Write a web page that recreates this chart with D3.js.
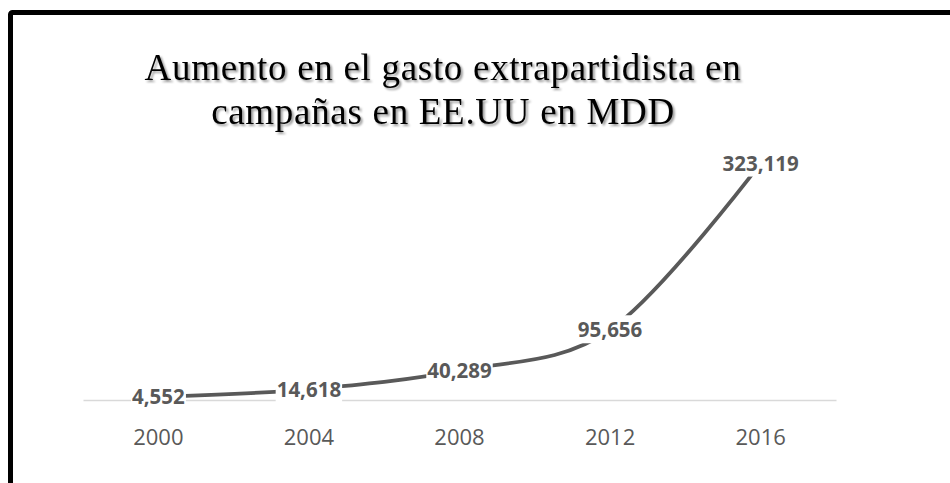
<!DOCTYPE html>
<html><head><meta charset="utf-8">
<script src="https://cdn.jsdelivr.net/npm/d3@7"></script>
<style>body{margin:0;background:#fff;} svg{display:block;}</style>
</head><body>
<script>
const years = ["2000","2004","2008","2012","2016"];
const values = [4552, 14618, 40289, 95656, 323119];
const titleLines = ["Aumento en el gasto extrapartidista en", "campañas en EE.UU en MDD"];

const W = 950, H = 483;
const svg = d3.select("body").append("svg").attr("width", W).attr("height", H);
const defs = svg.append("defs");
const f = defs.append("filter").attr("id","sh").attr("x","-10%").attr("y","-20%").attr("width","120%").attr("height","150%");
f.append("feDropShadow").attr("dx",2).attr("dy",2).attr("stdDeviation",1.3).attr("flood-color","#000").attr("flood-opacity",0.4);

// outer frame
svg.append("rect").attr("x",10.5).attr("y",12.5).attr("width",W+20).attr("height",H+20)
  .attr("fill","none").attr("stroke","#000").attr("stroke-width",5).attr("rx",2);

// title
const t = svg.append("text").attr("text-anchor","middle").attr("font-family","'Liberation Serif','Times New Roman',serif")
  .attr("font-size",37).attr("letter-spacing",0.7).attr("fill","#000").attr("filter","url(#sh)");
titleLines.forEach((l,i)=>t.append("tspan").attr("x",443).attr("y",80+44*i).text(l));

const x = d3.scaleBand().domain(years).range([83, 836]);
const y = d3.scaleLinear().domain([0, 350000]).range([400, 143.5]);

// axis
const ax = svg.append("g").attr("transform","translate(0,400)")
  .call(d3.axisBottom(x).tickSize(0).tickPadding(0));
ax.select(".domain").attr("stroke","#d9d9d9").attr("stroke-width",1.3);
ax.selectAll("text").attr("font-family","'Open Sans',sans-serif").attr("font-size",22)
  .attr("fill","#595959").attr("dy",0).attr("y",45);

// line
const line = d3.line().x((d,i)=>x(years[i])+x.bandwidth()/2).y(d=>y(d)).curve(d3.curveCardinal.tension(0));
svg.append("path").datum(values).attr("d",line).attr("fill","none").attr("stroke","#595959").attr("stroke-width",3.8);

// labels
const fmt = d3.format(",");
const lg = svg.append("g");
values.forEach((v,i)=>{
  const cx = x(years[i])+x.bandwidth()/2, cy = y(v);
  const g = lg.append("g");
  const tx = g.append("text").attr("x",cx).attr("y",cy).attr("dy","0.36em").attr("text-anchor","middle")
    .attr("font-family","'Open Sans',sans-serif").attr("font-weight","bold").attr("font-size",20.5)
    .attr("fill","#595959").text(fmt(v));
  const bb = tx.node().getBBox();
  g.insert("rect","text").attr("x",bb.x-1).attr("y",bb.y).attr("width",bb.width+2).attr("height",bb.height).attr("fill","#fff");
});
</script>
</body></html>
